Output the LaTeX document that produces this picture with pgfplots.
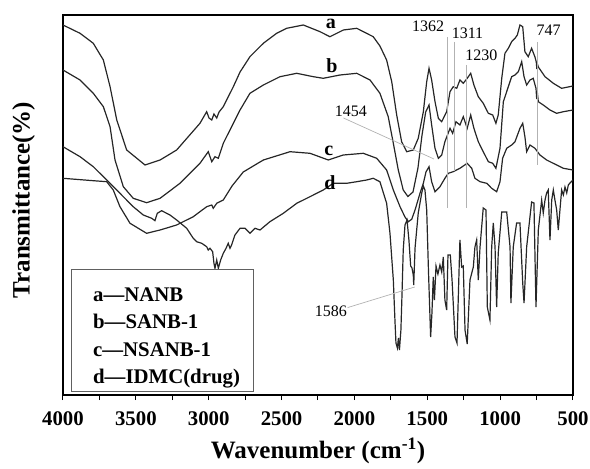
\documentclass[border=0pt]{standalone}
\usepackage{fontspec}
\setmainfont{Liberation Serif}
\usepackage{pgfplots}
\pgfplotsset{compat=1.18}
\begin{document}
\begin{tikzpicture}
\useasboundingbox (0,0) rectangle (590bp,469bp);
\begin{axis}[
  at={(63bp,74bp)}, anchor=south west,
  scale only axis, width=510bp, height=380bp,
  x dir=reverse, xmin=500, xmax=4000, ymin=0, ymax=380,
  xtick={500,1000,1500,2000,2500,3000,3500,4000},
  xticklabels={500,1000,1500,2000,2500,3000,3500,4000},
  minor xtick={750,1250,1750,2250,2750,3250,3750},
  ytick=\empty,
  xtick pos=bottom, tick align=outside,
  major tick length=5bp, minor tick length=5bp,
  every tick/.style={black, line width=1bp},
  axis line style={line width=1.3bp},
  xticklabel style={font=\fontsize{20.8bp}{24bp}\selectfont\bfseries, yshift=-8bp},
  xlabel={Wavenumber (cm\textsuperscript{-1})},
  ylabel={Transmittance(\%)},
  label style={font=\fontsize{25bp}{30bp}\selectfont\bfseries},
  xlabel style={at={(axis description cs:0.5,-0.148)}, anchor=center},
  ylabel style={at={(axis description cs:-0.077,0.513)}, anchor=center},
]
\draw[line width=1.3bp] (axis description cs:0,0) rectangle (axis description cs:1,1);
% curve a
\addplot[black!85, line width=1.2bp] table {
4000 370
3883 361.7
3792 351.7
3723 335
3677 308.3
3631 275
3563 245
3437 230
3334 235
3220 245
3060 271.7
3014 283.3
2998 277
2979 275
2964 281
2945 277
2929 283
2900 288.3
2831 308.3
2785 323
2717 338.3
2625 351.7
2534 361.7
2465 366.7
2351 370
2236 363.3
2168 358.3
2076 365
1984 366.7
1871 358.3
1825 349
1779 335
1744 313.3
1710 280
1676 253.3
1641 243.3
1596 245
1562 256.7
1527 283.3
1504 313.3
1488 326.7
1470 315
1447 293.3
1424 276.7
1401 273.3
1367 283.3
1344 303.3
1322 308.3
1298 306.7
1276 315
1253 311.7
1226 316.7
1202 321.7
1180 310
1150 298.3
1116 291.7
1081 281.7
1051 280
1029 271.7
1013 280
989 316.7
967 341.7
944 346.7
921 353.3
898 356.7
882 360
864 370
845 368.3
830 343.3
807 338.3
784 346.7
761 338
752 333
748 326
744 331
738 328
692 318.3
635 311.7
578 306.7
500 309
};
% curve b
\addplot[black!85, line width=1.2bp] table {
4000 325
3883 315
3792 301.7
3723 288.3
3677 268.3
3643 235
3586 208.3
3518 196.7
3426 192.3
3334 196.7
3197 211.7
3060 231.7
3003 243.3
2979 233.3
2957 238.3
2934 236.7
2900 251.7
2831 271.7
2785 285
2717 301.7
2625 310
2511 318.3
2396 321.7
2282 318.3
2214 316.7
2099 320
1984 321.7
1893 315
1825 301.7
1768 278.3
1733 251.7
1699 225
1665 205
1633 198.5
1598 203
1564 227
1536 260
1511 283
1488 290
1470 270
1447 246.7
1424 236.7
1401 240
1379 253.3
1344 266.7
1326 261.7
1303 273.3
1276 270
1253 278.3
1226 266.7
1202 280
1180 266.7
1150 253.3
1116 243.3
1081 233.3
1051 231.7
1029 226.7
1001 246.7
978 293.3
944 308.3
921 318.3
898 320
875 323.3
852 333.3
836 318.3
818 310
795 315
773 316.7
754 306.7
749 296
745 303
738 293.3
704 290
658 285
612 281.7
566 283.3
500 285
};
% curve c
\addplot[black!85, line width=1.2bp] table {
4000 216.7
3792 214.3
3700 213.3
3655 205
3609 188.3
3540 171.7
3426 161.7
3334 165
3220 170
3106 178.3
3014 188.3
2979 190
2969 186.7
2945 191.7
2900 195
2840 209
2763 223
2625 235
2442 243.3
2305 241.7
2179 235
2076 240
1939 241.7
1847 236.7
1779 225
1733 205
1687 188.3
1653 178
1630 173.3
1607 175.7
1584 185
1550 201.7
1527 211.7
1509 223
1488 228.3
1470 213.3
1447 203.3
1413 208.3
1379 216.7
1356 221.7
1322 223.3
1276 226.7
1226 231.7
1195 226.7
1173 216.7
1138 213.3
1092 211.7
1058 206.7
1024 203.3
1001 213.3
983 236.7
955 246.7
921 250
898 253.3
864 266.7
845 271.7
830 258.3
818 243.3
795 250
761 246.7
727 240
681 235
612 230
566 226.7
500 225
};
% curve d
\addplot[black!85, line width=1.2bp] table {
4000 248.3
3883 238.3
3792 228.3
3700 215
3609 201.7
3518 188.3
3449 180
3391 176.7
3369 174.3
3353 181.7
3323 184.3
3266 180
3220 175
3151 166.7
3106 156.7
3083 153.3
3048 151.7
3014 148.3
3003 145
2991 146.7
2973 143.3
2964 131.7
2957 126.7
2945 135
2934 126.7
2918 135
2900 141.7
2881 146.7
2866 151.7
2854 146.7
2843 150
2820 160
2785 166.7
2751 166.7
2717 161.7
2682 166.7
2648 165
2580 173.3
2488 181.7
2396 191.7
2305 198.3
2214 205
2145 211.7
2053 211.7
1984 213.3
1916 215
1871 216.7
1825 213.3
1779 191.7
1756 161.7
1733 115
1722 75
1715 52
1705 47
1698 57
1691 45
1681 65
1674 98
1665 145
1653 170
1639 175
1626 155
1614 129
1605 127
1596 120
1593 110
1584 147
1562 182
1538 202
1527 209
1516 205
1504 185
1492 125
1477 58
1468 82
1459 118
1451 95
1440 129
1427 121
1413 130
1401 123
1390 138
1379 95
1367 85
1358 140
1342 140
1330 115
1310 58
1296 52
1276 155
1264 128
1253 129
1241 65
1226 51
1207 115
1184 128
1173 148
1161 155
1150 115
1138 148
1116 187
1097 185
1088 88
1070 75
1058 148
1047 172
1035 148
1024 88
1013 142
989 183
955 183
932 148
926 92
910 148
887 172
864 172
845 112
836 92
818 148
784 193
768 192
754 88
738 165
715 195
704 182
692 195
681 202
670 205
658 155
646 195
635 205
624 195
612 185
601 165
578 205
566 200
555 208
543 202
532 210
521 212
500 215
};
% annotation lines
\draw[gray!60, line width=0.7bp] (axis cs:1362,358) -- (axis cs:1362,187);
\draw[gray!60, line width=0.7bp] (axis cs:1311,353) -- (axis cs:1311,224);
\draw[gray!60, line width=0.7bp] (axis cs:1230,330) -- (axis cs:1230,187);
\draw[gray!60, line width=0.7bp] (axis cs:747,353) -- (axis cs:747,230);
\draw[gray!60, line width=0.7bp] (axis cs:2075,277) -- (axis cs:1454,236);
\draw[gray!60, line width=0.7bp] (axis cs:2047,87.4) -- (axis cs:1586,108);
\begin{scope}[every node/.style={font=\fontsize{16bp}{18bp}\selectfont, inner sep=0pt}]
\node at (axis cs:1495,368.5) {1362};
\node at (axis cs:1224,362) {1311};
\node at (axis cs:1128,339.5) {1230};
\node at (axis cs:667,365) {747};
\node at (axis cs:2024,284) {1454};
\node at (axis cs:2161,83.5) {1586};
\end{scope}
\begin{scope}[every node/.style={font=\fontsize{20bp}{24bp}\selectfont\bfseries, inner sep=0pt}]
\node at (axis cs:2161,371) {a};
\node at (axis cs:2154,329) {b};
\node at (axis cs:2175,244) {c};
\node at (axis cs:2168,212) {d};
\end{scope}
% legend box
\draw[gray!75!black, line width=1bp, fill=white] (axis description cs:0.0157,0.0105) rectangle (axis description cs:0.3745,0.329);
\begin{scope}[every node/.style={font=\fontsize{20.8bp}{24bp}\selectfont\bfseries, inner sep=0pt, anchor=base west}]
\node at (axis description cs:0.0588,0.2455) {a---NANB};
\node at (axis description cs:0.0588,0.1755) {b---SANB-1};
\node at (axis description cs:0.0588,0.1008) {c---NSANB-1};
\node at (axis description cs:0.0588,0.0308) {d---IDMC(drug)};
\end{scope}
\end{axis}
\end{tikzpicture}
\end{document}
